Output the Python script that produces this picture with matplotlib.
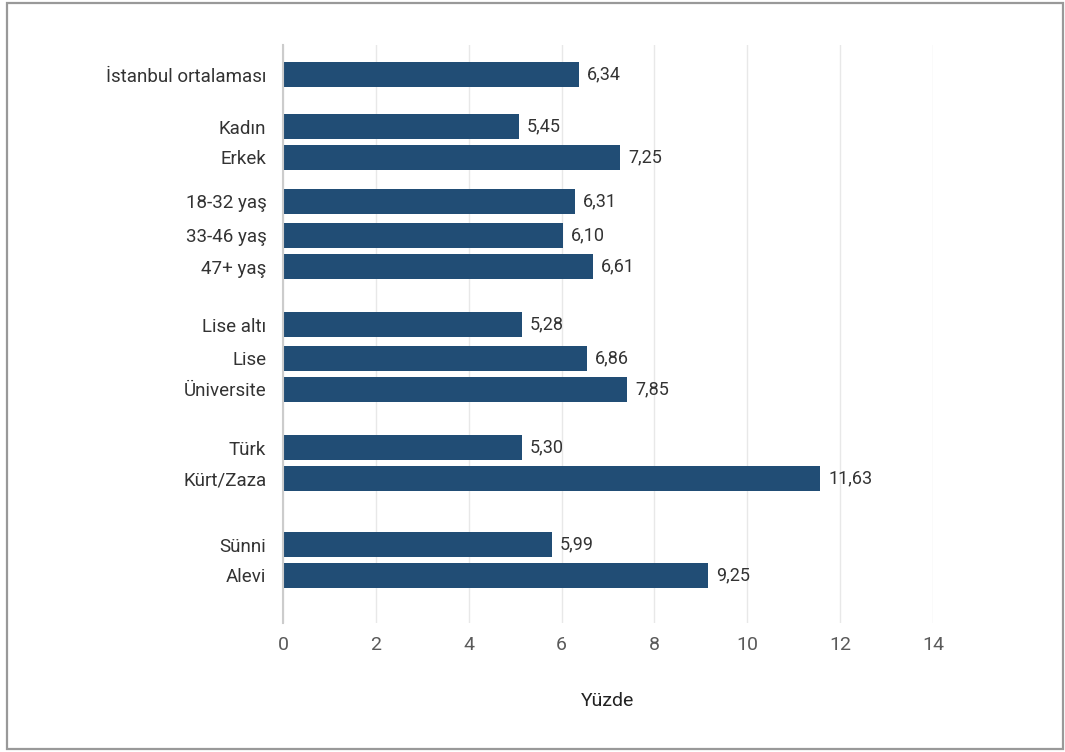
import matplotlib.pyplot as plt
from matplotlib import font_manager
from matplotlib.patches import Rectangle

# Kategoriler
labels = [
    "İstanbul ortalaması",
    "Kadın", "Erkek",
    "18-32 yaş", "33-46 yaş", "47+ yaş",
    "Lise altı", "Lise", "Üniversite",
    "Türk", "Kürt/Zaza",
    "Sünni", "Alevi",
]
# çubuk uzunlukları (etiketlerle birebir tutmuyor)
values = [6.37, 5.08, 7.26, 6.29, 6.03, 6.68, 5.15, 6.55, 7.41, 5.15, 11.57, 5.79, 9.15]
# çubukların yanındaki yazılar
value_labels = ["6,34", "5,45", "7,25", "6,31", "6,10", "6,61", "5,28", "6,86",
                "7,85", "5,30", "11,63", "5,99", "9,25"]
xticks = [0, 2, 4, 6, 8, 10, 12, 14]
xlabel = "Yüzde"

# yerleşim: çubuk merkezleri (üstten piksel)
y_pos = [74.5, 126.5, 157.5, 201.3, 235.5, 266.5, 324.5, 358.3, 389.3, 447.7, 478.3, 544.7, 575.3]
BAR_H = 24.5
BAR_COLOR = "#214d75"

names = {f.name for f in font_manager.fontManager.ttflist}
FONT = ["Liberation Sans Narrow", "DejaVu Sans"] if "Liberation Sans Narrow" in names else ["Roboto", "DejaVu Sans"]
plt.rcParams["font.family"] = FONT


def main():
    fig = plt.figure(figsize=(10.65, 7.52), dpi=100)
    ax = fig.add_axes([283 / 1065, 1 - 623 / 752, 650 / 1065, 578 / 752])

    ax.barh(y_pos, values, height=BAR_H, color=BAR_COLOR, zorder=3)
    for y, v, t in zip(y_pos, values, value_labels):
        ax.text(v + 0.17, y, t, va="center", ha="left", fontsize=13, color="#333333")

    ax.set_ylim(623, 45)
    ax.set_xlim(0, 14)
    ax.set_yticks(y_pos)
    ax.set_yticklabels(labels, fontsize=13.5, color="#333333")
    ax.set_xticks(xticks)
    ax.set_xticklabels([str(t) for t in xticks], fontsize=14, color="#5a5a5a")
    ax.tick_params(axis="y", length=0, pad=12)
    ax.tick_params(axis="x", length=0, pad=9)
    ax.grid(axis="x", color="#e8e8e8", linewidth=1.0, zorder=0)

    for s in ["top", "right", "bottom"]:
        ax.spines[s].set_visible(False)
    ax.spines["left"].set_color("#cccccc")
    ax.spines["left"].set_linewidth(1.5)
    ax.spines["left"].set_zorder(4)

    ax.set_xlabel(xlabel, fontsize=14, color="#222222", labelpad=28)

    # çerçeve
    fig.patches.append(Rectangle((7 / 1065, 3 / 752), 1056 / 1065, 746 / 752,
                                 transform=fig.transFigure, fill=False,
                                 edgecolor="#999999", linewidth=1.6))

    fig.savefig("out.png", dpi=100)
    plt.close(fig)


if __name__ == "__main__":
    main()
